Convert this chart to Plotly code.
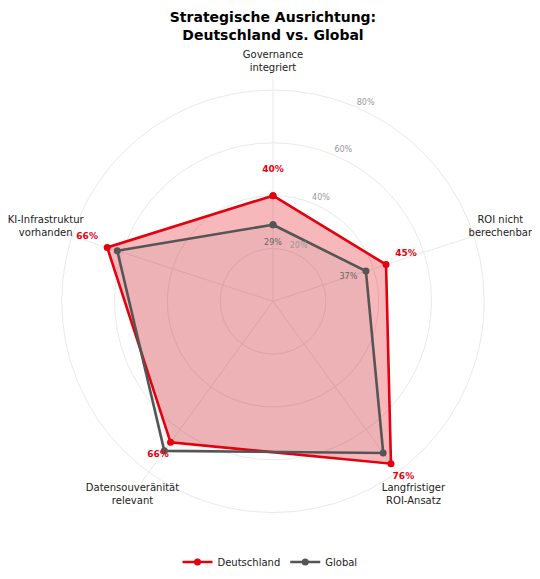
import plotly.graph_objects as go

# ---- data ----
categories = ["Governance<br>integriert", "ROI nicht<br>berechenbar", "Langfristiger<br>ROI-Ansatz",
              "Datensouveränität<br>relevant", "KI-Infrastruktur<br>vorhanden"]
deutschland = [40, 45, 76, 66, 66]
global_vals = [29, 37, 71, 70, 62]
radial_ticks = [20, 40, 60, 80]
radial_tick_labels = ["20%", "40%", "60%", "80%"]
title_lines = ["Strategische Ausrichtung:", "Deutschland vs. Global"]

RED = "#E3000F"
GRAY = "#555555"
GRID = "#e9e9e9"
FONT = "DejaVu Sans"

# the page has an 8px body margin: figure is drawn 8px in from the top-left,
# sized so that no scrollbar appears
W, H = 532, 563

n = len(categories)
angles = [i * 360 / n for i in range(n)]
closed_angles = angles + angles[:1]
SPOKE_END = 85
LABEL_R = 90.5
R_MAX = 97

fig = go.Figure()

# spokes (angular grid lines) ending at SPOKE_END
spoke_r, spoke_t = [], []
for a in angles:
    spoke_r += [0, SPOKE_END, None]
    spoke_t += [a, a, None]
fig.add_trace(go.Scatterpolar(r=spoke_r, theta=spoke_t, mode="lines",
                              line=dict(color=GRID, width=1), showlegend=False,
                              hoverinfo="skip"))

# filled areas (no legend)
fig.add_trace(go.Scatterpolar(
    r=deutschland + deutschland[:1], theta=closed_angles, mode="lines",
    fill="toself", fillcolor="rgba(227,0,15,0.28)", line=dict(width=0),
    showlegend=False, hoverinfo="skip"))
fig.add_trace(go.Scatterpolar(
    r=global_vals + global_vals[:1], theta=closed_angles, mode="lines",
    fill="toself", fillcolor="rgba(85,85,85,0.06)", line=dict(width=0),
    showlegend=False, hoverinfo="skip"))

# outlines with markers
fig.add_trace(go.Scatterpolar(
    r=deutschland + deutschland[:1], theta=closed_angles, name="Deutschland",
    mode="lines+markers", line=dict(color=RED, width=2.6),
    marker=dict(color=RED, size=7), hoverinfo="skip"))
fig.add_trace(go.Scatterpolar(
    r=global_vals + global_vals[:1], theta=closed_angles, name="Global",
    mode="lines+markers", line=dict(color=GRAY, width=2.6),
    marker=dict(color=GRAY, size=7), hoverinfo="skip"))

# value labels Deutschland
fig.add_trace(go.Scatterpolar(
    r=[v + 8 for v in deutschland], theta=angles, mode="text",
    text=[f"<b>{v}%</b>" for v in deutschland], textposition="top center",
    textfont=dict(family=FONT, size=9, color=RED), showlegend=False,
    hoverinfo="skip", cliponaxis=False))

# value labels Global (only where clearly below Deutschland)
g_idx = [i for i in range(n) if deutschland[i] - global_vals[i] > 5]
fig.add_trace(go.Scatterpolar(
    r=[global_vals[i] - 7 for i in g_idx], theta=[angles[i] for i in g_idx], mode="text",
    text=[f"{global_vals[i]}%" for i in g_idx], textposition="middle center",
    textfont=dict(family=FONT, size=8, color="#666666"), showlegend=False,
    hoverinfo="skip", cliponaxis=False))

# radial tick labels
fig.add_trace(go.Scatterpolar(
    r=[t + 3 for t in radial_ticks], theta=[25] * len(radial_ticks), mode="text",
    text=radial_tick_labels, textposition="middle center",
    textfont=dict(family=FONT, size=8, color="#999999"), showlegend=False,
    hoverinfo="skip", cliponaxis=False))

# category labels
fig.add_trace(go.Scatterpolar(
    r=[LABEL_R] * n, theta=angles, mode="text", text=categories,
    textposition="middle center",
    textfont=dict(family=FONT, size=10, color="#222222"), showlegend=False,
    hoverinfo="skip", cliponaxis=False))

# polar geometry (in figure pixels): center and px per unit
cx, cy, ppu = 265, 293.3, 2.641
rad = R_MAX * ppu
half_w = min(cx, W - cx)

fig.update_layout(
    width=W, height=H,
    margin=dict(l=0, r=0, t=0, b=0, autoexpand=False),
    paper_bgcolor="white",
    font=dict(family=FONT, color="#222222"),
    title=dict(text="<b>" + "<br>".join(title_lines) + "</b>",
               x=cx / W, xanchor="center", y=1 - 14.1 / H, yanchor="top",
               font=dict(family=FONT, size=14, color="black")),
    polar=dict(
        domain=dict(x=[(cx - half_w) / W, (cx + half_w) / W],
                    y=[max(0, 1 - (cy + rad) / H), 1 - (cy - rad) / H]),
        bgcolor="rgba(0,0,0,0)",
        radialaxis=dict(range=[0, R_MAX], tickvals=radial_ticks, showticklabels=False,
                        showline=False, ticks="", gridcolor=GRID, gridwidth=1),
        angularaxis=dict(type="linear", thetaunit="degrees", rotation=90,
                         direction="clockwise", tickvals=angles, showticklabels=False,
                         ticks="", showline=False, showgrid=False),
    ),
    legend=dict(orientation="h", x=262 / W, xanchor="center", y=1 - 554 / H,
                yanchor="middle",
                font=dict(family=FONT, size=10, color="#222222"), bgcolor="rgba(0,0,0,0)"),
    showlegend=True,
)

fig.write_html("out.html")
